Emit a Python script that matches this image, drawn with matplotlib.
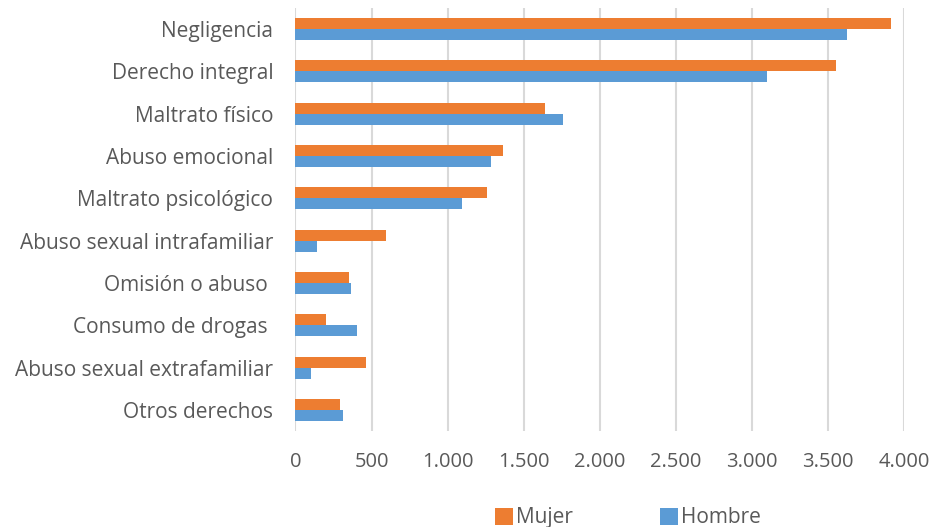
import numpy as np
import matplotlib.pyplot as plt

plt.rcParams['font.family'] = ['Open Sans', 'DejaVu Sans']

# Datos
categorias = ['Negligencia', 'Derecho integral', 'Maltrato físico', 'Abuso emocional',
              'Maltrato psicológico', 'Abuso sexual intrafamiliar', 'Omisión o abuso ',
              'Consumo de drogas ', 'Abuso sexual extrafamiliar', 'Otros derechos']
mujer = [3917, 3550, 1643, 1361, 1262, 594, 350, 199, 462, 293]
hombre = [3627, 3100, 1755, 1284, 1093, 139, 367, 402, 101, 312]
ticks = [0, 500, 1000, 1500, 2000, 2500, 3000, 3500, 4000]
tick_labels = ['0', '500', '1.000', '1.500', '2.000', '2.500', '3.000', '3.500', '4.000']

naranja = '#ED7D31'
azul = '#5B9BD5'
gris = '#595959'

fig = plt.figure(figsize=(9.33, 5.27), dpi=100)
ax = fig.add_axes([0.3167, 0.182, 0.6523, 0.803])

y = np.arange(len(categorias))
h = 0.26
ax.barh(y - h/2, mujer, height=h, color=naranja, label='Mujer', zorder=3)
ax.barh(y + h/2, hombre, height=h, color=azul, label='Hombre', zorder=3)

ax.set_xlim(0, 4000)
ax.set_ylim(len(categorias) - 0.5, -0.5)
ax.set_yticks(y)
ax.set_yticklabels(categorias, fontsize=15, color=gris)
ax.set_xticks(ticks)
ax.set_xticklabels(tick_labels, fontsize=14.5, color=gris)
ax.tick_params(axis='y', length=0, pad=16)
ax.tick_params(axis='x', length=0, pad=15)

ax.grid(axis='x', color='#d9d9d9', linewidth=1.5, zorder=0)
for s in ax.spines.values():
    s.set_visible(False)

fig.legend(loc='lower center', bbox_to_anchor=(0.673, -0.038), ncol=2, frameon=False,
           fontsize=15, labelcolor=gris, handlelength=0.87, handleheight=0.87,
           handletextpad=0.15, columnspacing=4.2)

plt.savefig('out.png', dpi=100)
